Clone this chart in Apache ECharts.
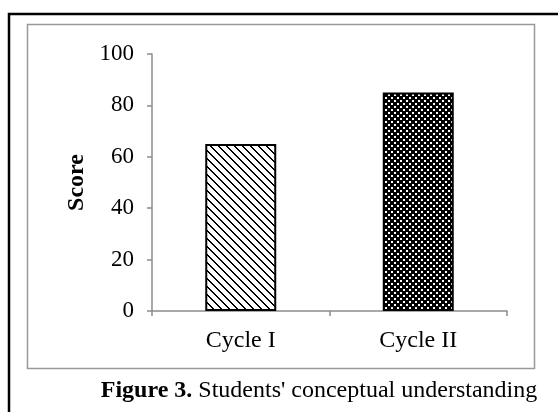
<!DOCTYPE html>
<html>
<head>
<meta charset="utf-8">
<script src="https://cdn.jsdelivr.net/npm/echarts@6/dist/echarts.min.js"></script>
<style>
  html, body { margin: 0; padding: 0; background: #fff; }
  #chart { width: 558px; height: 412px; }
</style>
</head>
<body>
<div id="chart"></div>
<script>
const categories = ['Cycle I', 'Cycle II']
const scores = [65, 85]
const yTicks = { min: 0, max: 100, interval: 20 }
const caption = ['Figure 3.', " Students' conceptual understanding"]

const FONT = '"Liberation Serif", "Times New Roman", serif'

// hatch tiles drawn on small canvases, used as repeating fills
function makeTile(size, isBlack) {
  const c = document.createElement('canvas')
  c.width = size
  c.height = size
  const ctx = c.getContext('2d')
  ctx.fillStyle = '#fff'
  ctx.fillRect(0, 0, size, size)
  ctx.fillStyle = '#000'
  for (let y = 0; y < size; y++) {
    for (let x = 0; x < size; x++) {
      if (isBlack(x, y)) ctx.fillRect(x, y, 1, 1)
    }
  }
  return c
}

// downward diagonal stripes
const stripeTile = makeTile(8, (x, y) => ((x - y) % 8 + 8) % 8 < 2)
// dense dark checker with white dots
const checkTile = makeTile(6, (x, y) => {
  const w1 = (x === 1 || x === 2) && (y === 1 || y === 2)
  const w2 = (x === 4 || x === 5) && (y === 4 || y === 5)
  return !(w1 || w2)
})
const fills = [stripeTile, checkTile]

const chart = echarts.init(document.getElementById('chart'))
chart.setOption({
  animation: false,
  backgroundColor: '#fff',
  grid: { left: 152, right: 51, top: 54, bottom: 101 },
  xAxis: {
    type: 'category',
    data: categories,
    axisLine: { lineStyle: { color: '#8c8c8c', width: 1.5 } },
    axisTick: { show: true, length: 5, lineStyle: { color: '#8c8c8c', width: 1.5 } },
    axisLabel: { color: '#000', fontFamily: FONT, fontSize: 24, margin: 18 },
  },
  yAxis: {
    type: 'value',
    min: yTicks.min,
    max: yTicks.max,
    interval: yTicks.interval,
    name: 'Score',
    nameLocation: 'middle',
    nameGap: 61,
    nameTextStyle: { color: '#000', fontFamily: FONT, fontSize: 24, fontWeight: 'bold' },
    axisLine: { show: true, lineStyle: { color: '#8c8c8c', width: 1.5 } },
    axisTick: { show: true, length: 5, lineStyle: { color: '#8c8c8c', width: 1.5 } },
    splitLine: { show: false },
    axisLabel: { color: '#000', fontFamily: FONT, fontSize: 23, margin: 18 },
  },
  series: [
    {
      type: 'bar',
      barWidth: '40%',
      data: scores.map((v, i) => ({
        value: v,
        itemStyle: {
          color: { image: fills[i], repeat: 'repeat' },
          borderColor: '#000',
          borderWidth: 2,
        },
      })),
    },
  ],
  graphic: [
    {
      type: 'polyline',
      shape: { points: [[9, 420], [9, 14], [570, 14]] },
      style: { stroke: '#000', lineWidth: 2.5, fill: null },
    },
    {
      type: 'rect',
      shape: { x: 27.5, y: 24.5, width: 507, height: 344 },
      style: { stroke: '#999', lineWidth: 1.5, fill: null },
    },
    {
      type: 'text',
      x: 319,
      y: 379,
      style: {
        text: '{b|' + caption[0] + '}{n|' + caption[1] + '}',
        align: 'center',
        rich: {
          b: { fontFamily: FONT, fontSize: 24, fontWeight: 'bold', fill: '#000' },
          n: { fontFamily: FONT, fontSize: 24, fill: '#000' },
        },
      },
    },
  ],
})
</script>
</body>
</html>
